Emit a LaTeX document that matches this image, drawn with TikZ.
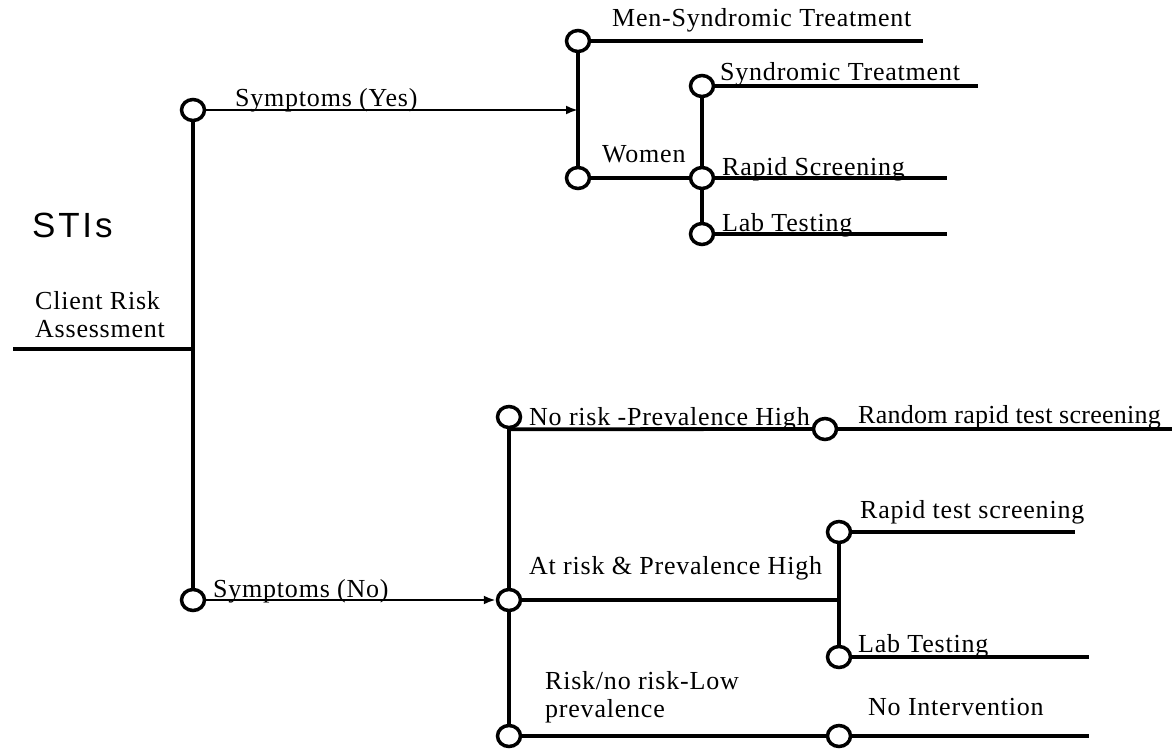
\documentclass[tikz,border=0pt]{standalone}
\usepackage{fontspec}
\setmainfont[LetterSpace=3]{Liberation Serif}
\newfontfamily\headfont[LetterSpace=8]{Liberation Sans}
\usetikzlibrary{arrows.meta,positioning,shapes.geometric}

\begin{document}
\begin{tikzpicture}[
    x=1pt, y=-1pt,
    knot/.style={ellipse, draw, line width=3.5pt, fill=white, minimum width=23pt, minimum height=21pt, inner sep=0pt},
    branch/.style={line width=3.8pt},
    arrow/.style={line width=2.6pt, -{Latex[length=12pt, width=9pt]}},
    lbl/.style={font=\fontsize{26}{28}\selectfont, inner sep=0pt, anchor=base west},
]
\useasboundingbox (0,0) rectangle (1172,749);

% Title and root
\node[font=\headfont\fontsize{35}{38}\selectfont, anchor=base west, inner sep=0pt] (title) at (32,237) {STIs};
\node[lbl, align=left] (cra) at (35,337) {Client Risk\\Assessment};
\coordinate (root) at (13,349);
\coordinate (rootjoin) at (193,349);

% Symptoms branches
\node[knot] (yes) at (193,110) {};
\node[knot] (no) at (193,600) {};
\coordinate (yesin) at (578,110);

% Men / Women
\node[knot] (men) at (578,41) {};
\node[knot] (women) at (578,178) {};
\coordinate (menend) at (923,41);

% Women options
\node[knot] (synd) at (702,86) {};
\node[knot] (rapid) at (702,178) {};
\node[knot] (lab) at (702,234) {};
\coordinate (syndend) at (978,86);
\coordinate (rapidend) at (947,178);
\coordinate (labend) at (947,234);

% No symptoms: risk levels
\node[knot] (norisk) at (509,417) {};
\node[knot] (atrisk) at (509,600) {};
\node[knot] (low) at (509,736) {};
\node[knot] (random) at (825,429) {};
\node[knot] (noint) at (839,736) {};
\coordinate (randomend) at (1172,429);
\coordinate (atriskjoin) at (839,600);
\coordinate (nointend) at (1089,736);

% At risk options
\node[knot] (rapidtest) at (839,532) {};
\node[knot] (labtest) at (839,657) {};
\coordinate (rapidtestend) at (1075,532);
\coordinate (labtestend) at (1089,657);

% Connectors
\draw[branch] (root) -- (rootjoin);
\draw[branch] (yes) -- (no);
\draw[arrow] (yes) -- (yesin);
\draw[arrow] (no) -- (atrisk);
\draw[branch] (men) -- (women);
\draw[branch] (men) -- (menend);
\draw[branch] (women) -- (rapid);
\draw[branch] (synd) -- (rapid) -- (lab);
\draw[branch] (synd) -- (syndend);
\draw[branch] (rapid) -- (rapidend);
\draw[branch] (lab) -- (labend);

\draw[branch] (norisk) -- (atrisk) -- (low);
\draw[branch] (norisk.south) -- (random);
\draw[branch] (random) -- (randomend);
\draw[branch] (atrisk) -- (atriskjoin);
\draw[branch] (rapidtest) -- (labtest);
\draw[branch] (rapidtest) -- (rapidtestend);
\draw[branch] (labtest) -- (labtestend);
\draw[branch] (low) -- (noint);
\draw[branch] (noint) -- (nointend);

% Labels
\node[lbl] (yeslbl) at (235,107) {Symptoms (Yes)};
\node[lbl] (nolbl) at (213,597) {Symptoms (No)};
\node[lbl] (menlbl) at (612,27) {Men-Syndromic Treatment};
\node[lbl] (womenlbl) at (602,162) {Women};
\node[lbl] (syndlbl) at (720,81) {Syndromic Treatment};
\node[lbl] (rapidlbl) at (722,175) {Rapid Screening};
\node[lbl] (lablbl) at (722,231) {Lab Testing};
\node[lbl] (norisklbl) at (529,425) {No risk -Prevalence High};
\node[lbl, font=\fontsize{26}{28}\selectfont\addfontfeature{LetterSpace=1}] (randomlbl) at (858,423) {Random rapid test screening};
\node[lbl] (atrisklbl) at (529,574) {At risk \& Prevalence High};
\node[lbl] (rapidtestlbl) at (860,518) {Rapid test screening};
\node[lbl] (labtestlbl) at (858,652) {Lab Testing};
\node[lbl, align=left] (lowlbl) at (545,717) {Risk/no risk-Low\\prevalence};
\node[lbl] (nointlbl) at (868,715) {No Intervention};
\end{tikzpicture}
\end{document}
